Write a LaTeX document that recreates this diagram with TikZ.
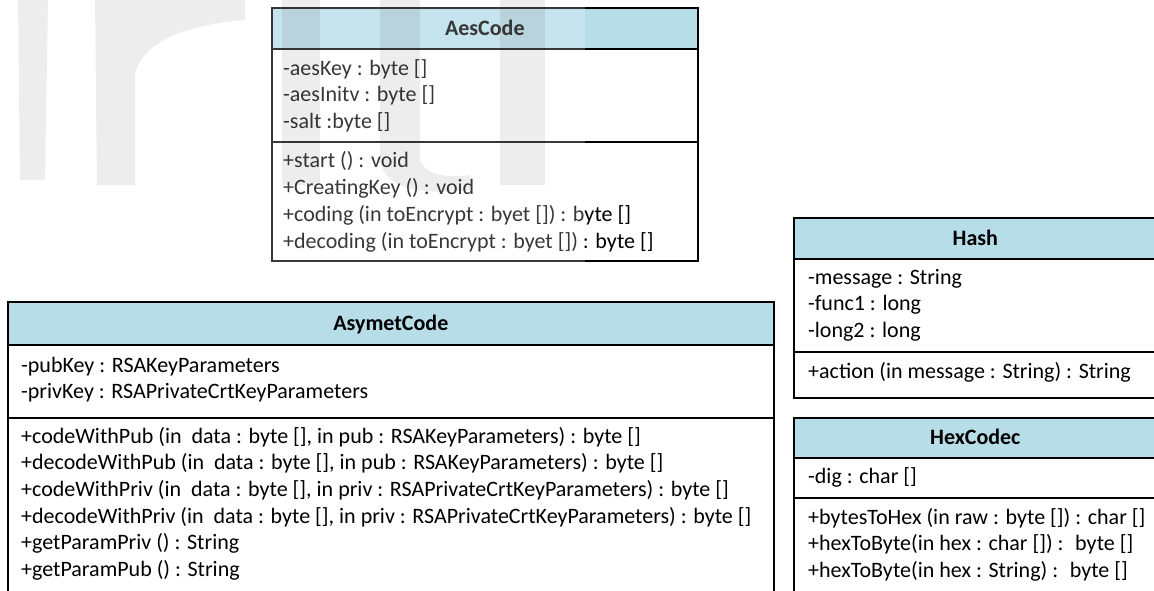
\documentclass[tikz,border=0pt]{standalone}
\usepackage{fontspec}
\setmainfont{Carlito}
\usetikzlibrary{positioning}

\definecolor{headblue}{HTML}{B7DDE8}

\begin{document}
\begin{tikzpicture}[x=1pt,y=-1pt]
	\tikzstyle{Head}	= [rectangle, draw, fill=headblue, line width=1.6pt, anchor=north west, inner sep=0pt]
	\tikzstyle{Body}	= [rectangle, draw, fill=white, line width=1.6pt, anchor=north west, inner sep=0pt]
	\tikzstyle{Title}	= [anchor=base, inner sep=0pt, font=\bfseries\fontsize{22}{26.7}\selectfont]
	\tikzstyle{Member}	= [anchor=base west, align=left, inner sep=0pt, font=\fontsize{22}{26.7}\selectfont]
	\tikzstyle{Mark}	= [fill=black, opacity=0.07]

	\useasboundingbox (0,0) rectangle (1154,590);

	% AesCode (text nodes sit on the baseline of their last line)
	\node (aesHead) at (271,7) [Head, minimum width=426pt, minimum height=41pt] {};
	\node (aesAttr) at (271,48) [Body, minimum width=426pt, minimum height=93pt] {};
	\node (aesOps) at (271,141) [Body, minimum width=426pt, minimum height=119pt] {};
	\node (aesName) at (aesHead.center) [Title, yshift=-7pt] {AesCode};
	\node (aesVars) at (283,128.4) [Member] {-aesKey : byte []\\-aesInitv : byte []\\-salt :byte []};
	\node (aesFuncs) at (283,248) [Member] {+start () : void\\+CreatingKey () : void\\+coding (in toEncrypt : byet []) : byte []\\+decoding (in toEncrypt : byet []) : byte []};

	% AsymetCode
	\node (asyHead) at (7,301) [Head, minimum width=766pt, minimum height=43pt] {};
	\node (asyAttr) at (7,344) [Body, minimum width=766pt, minimum height=73pt] {};
	\node (asyOps) at (7,417) [Body, minimum width=766pt, minimum height=180pt] {};
	\node (asyName) at (asyHead.center) [Title, yshift=-7pt] {AsymetCode};
	\node (asyVars) at (21,398.7) [Member] {-pubKey : RSAKeyParameters\\-privKey : RSAPrivateCrtKeyParameters};
	\node (asyFuncs) at (21,576.5) [Member] {+codeWithPub (in \ data : byte [], in pub : RSAKeyParameters) : byte []\\+decodeWithPub (in \ data : byte [], in pub : RSAKeyParameters) : byte []\\+codeWithPriv (in \ data : byte [], in priv : RSAPrivateCrtKeyParameters) : byte []\\+decodeWithPriv (in \ data : byte [], in priv : RSAPrivateCrtKeyParameters) : byte []\\+getParamPriv () : String\\+getParamPub () : String};

	% Hash
	\node (hashHead) at (793,217) [Head, minimum width=363pt, minimum height=41pt] {};
	\node (hashAttr) at (793,258) [Body, minimum width=363pt, minimum height=93pt] {};
	\node (hashOps) at (793,351) [Body, minimum width=363pt, minimum height=46pt] {};
	\node (hashName) at (hashHead.center) [Title, yshift=-7pt] {Hash};
	\node (hashVars) at (808,337.4) [Member] {-message : String\\-func1 : long\\-long2 : long};
	\node (hashFuncs) at (808,378) [Member] {+action (in message : String) : String};

	% HexCodec
	\node (hexHead) at (793,417) [Head, minimum width=363pt, minimum height=40pt] {};
	\node (hexAttr) at (793,457) [Body, minimum width=363pt, minimum height=40pt] {};
	\node (hexOps) at (793,497) [Body, minimum width=363pt, minimum height=100pt] {};
	\node (hexName) at (hexHead.center) [Title, yshift=-7pt] {HexCodec};
	\node (hexVars) at (808,483) [Member] {-dig : char []};
	\node (hexFuncs) at (808,577.4) [Member] {+bytesToHex (in raw : byte []) : char []\\+hexToByte(in hex : char []) : \ byte []\\+hexToByte(in hex : String) : \ byte []};

	% logo laid over the top left corner
	\fill [white, opacity=0.22] (0,0) rectangle (585,265);
	\fill [Mark] (18,0) -- (48,0) -- (45,180) -- (20,180) -- cycle;
	\fill [Mark] (95,0) -- (245,0) -- (245,20) .. controls (180,25) and (140,45) .. (135,75) -- (135,185) -- (97,185) -- cycle;
	\fill [Mark] (282,0) rectangle (320,185);
	\fill [Mark] (380,0) -- (420,0) -- (420,160) .. controls (425,175) and (445,178) .. (470,175) -- (470,190) .. controls (420,195) and (385,190) .. (380,160) -- cycle;
	\fill [Mark] (500,0) rectangle (545,185);
\end{tikzpicture}
\end{document}
